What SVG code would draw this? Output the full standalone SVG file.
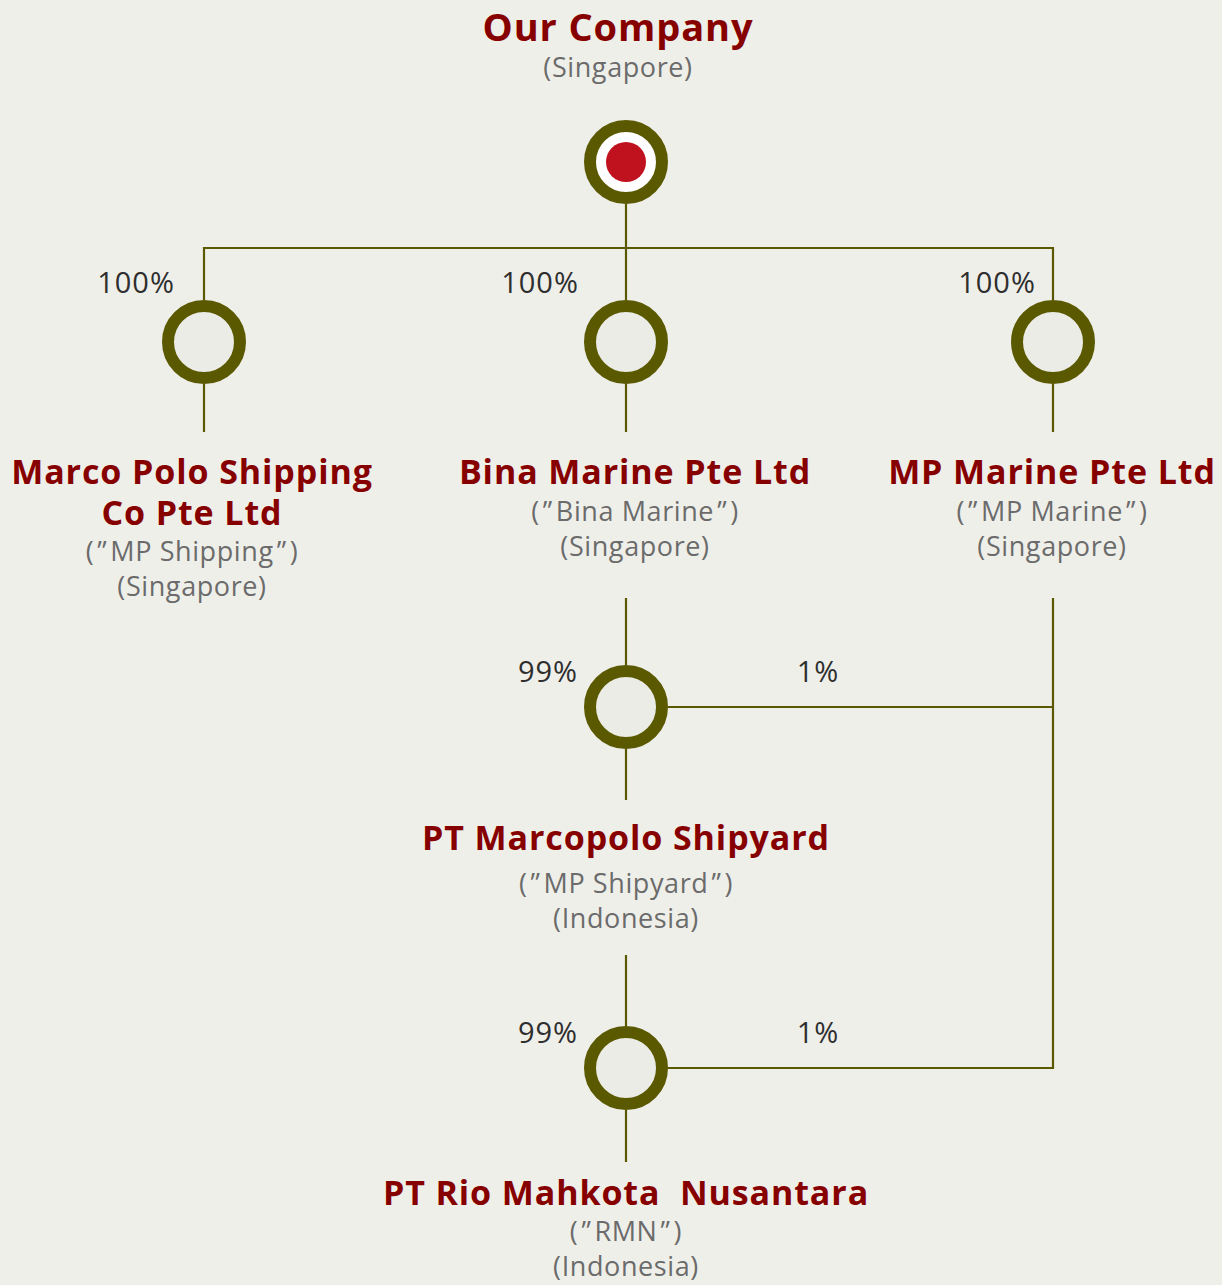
<svg xmlns="http://www.w3.org/2000/svg" width="1222" height="1285" viewBox="0 0 1222 1285">
<style>
.bg{fill:#efefea}
.ring{fill:#ecece7;stroke:#5b5900;stroke-width:12}
.ln{fill:none;stroke:#5b5900;stroke-width:2.2}
.name{font-family:"Open Sans","Noto Sans",sans-serif;font-weight:700;font-size:34px;letter-spacing:0.9px;fill:#870000;text-anchor:middle}
.sub{font-family:"Open Sans","Noto Sans",sans-serif;font-size:27px;letter-spacing:0.6px;fill:#6b6b6b;text-anchor:middle}
.pct{font-family:"Open Sans","Noto Sans",sans-serif;font-size:29px;letter-spacing:1px;fill:#2e2e2e;text-anchor:middle}
</style>
<rect class="bg" x="0" y="0" width="1222" height="1285"/>
<g id="connectors">
<path class="ln" d="M626 204V300M204 300V248H1053V300"/>
<path class="ln" d="M204 384V432M626 384V432M1053 384V432"/>
<path class="ln" d="M626 598V665M626 749V800"/>
<path class="ln" d="M626 955V1026M626 1110V1162"/>
<path class="ln" d="M1053 598V1068H668M668 707H1053"/>
</g>
<g id="our-company">
<text class="name" x="618" y="41" style="font-size:38px">Our Company</text>
<text class="sub" x="618" y="77">(Singapore)</text>
<circle cx="626" cy="162" r="36" fill="#ffffff" stroke="#5b5900" stroke-width="12"/>
<circle cx="626" cy="162" r="20" fill="#c0121e"/>
</g>
<g id="mp-shipping">
<text class="pct" x="136" y="293">100%</text>
<circle class="ring" cx="204" cy="342" r="36"/>
<text class="name" x="192" y="484">Marco Polo Shipping</text>
<text class="name" x="192" y="525">Co Pte Ltd</text>
<text class="sub" x="192" y="561">(<tspan dx="3">”</tspan><tspan dx="3">MP Shipping</tspan><tspan dx="3">”</tspan><tspan dx="3">)</tspan></text>
<text class="sub" x="192" y="596">(Singapore)</text>
</g>
<g id="bina-marine">
<text class="pct" x="540" y="293">100%</text>
<circle class="ring" cx="626" cy="342" r="36"/>
<text class="name" x="635" y="484">Bina Marine Pte Ltd</text>
<text class="sub" x="635" y="521">(<tspan dx="3">”</tspan><tspan dx="3">Bina Marine</tspan><tspan dx="3">”</tspan><tspan dx="3">)</tspan></text>
<text class="sub" x="635" y="556">(Singapore)</text>
</g>
<g id="mp-marine">
<text class="pct" x="997" y="293">100%</text>
<circle class="ring" cx="1053" cy="342" r="36"/>
<text class="name" x="1052" y="484">MP Marine Pte Ltd</text>
<text class="sub" x="1052" y="521">(<tspan dx="3">”</tspan><tspan dx="3">MP Marine</tspan><tspan dx="3">”</tspan><tspan dx="3">)</tspan></text>
<text class="sub" x="1052" y="556">(Singapore)</text>
</g>
<g id="mp-shipyard">
<text class="pct" x="548" y="682">99%</text>
<text class="pct" x="818" y="682">1%</text>
<circle class="ring" cx="626" cy="707" r="36"/>
<text class="name" x="626" y="850">PT Marcopolo Shipyard</text>
<text class="sub" x="626" y="893">(<tspan dx="3">”</tspan><tspan dx="3">MP Shipyard</tspan><tspan dx="3">”</tspan><tspan dx="3">)</tspan></text>
<text class="sub" x="626" y="928">(Indonesia)</text>
</g>
<g id="rmn">
<text class="pct" x="548" y="1043">99%</text>
<text class="pct" x="818" y="1043">1%</text>
<circle class="ring" cx="626" cy="1068" r="36"/>
<text class="name" x="626" y="1205" xml:space="preserve">PT Rio Mahkota  Nusantara</text>
<text class="sub" x="626" y="1241">(<tspan dx="3">”</tspan><tspan dx="3">RMN</tspan><tspan dx="3">”</tspan><tspan dx="3">)</tspan></text>
<text class="sub" x="626" y="1276">(Indonesia)</text>
</g>
</svg>
